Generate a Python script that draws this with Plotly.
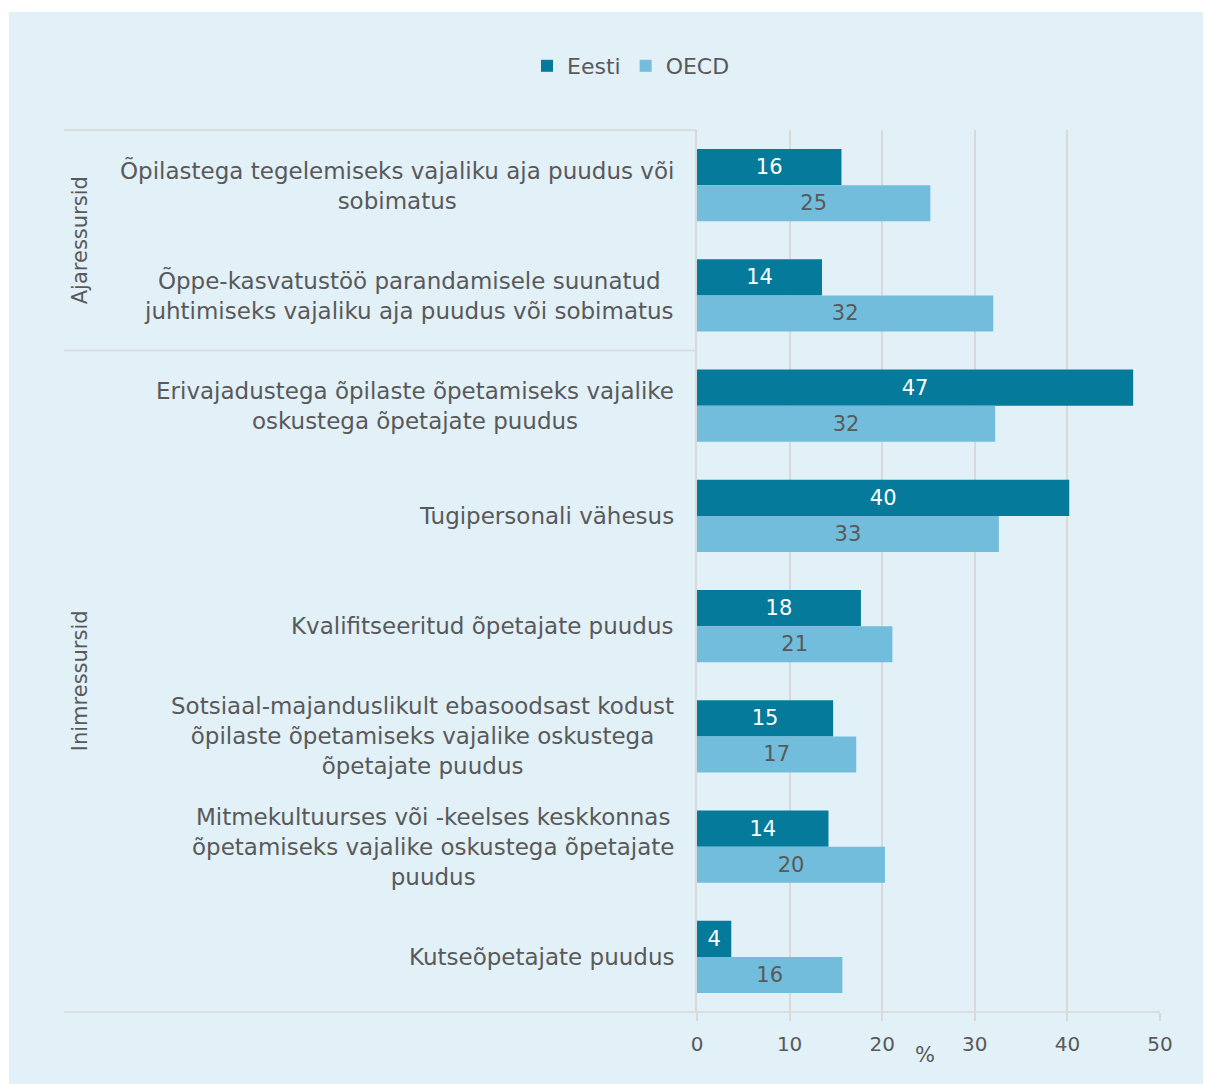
import plotly.graph_objects as go

categories = [
    "Õpilastega tegelemiseks vajaliku aja puudus või<br>sobimatus",
    "Õppe-kasvatustöö parandamisele suunatud<br>juhtimiseks vajaliku aja puudus või sobimatus",
    "Erivajadustega õpilaste õpetamiseks vajalike<br>oskustega õpetajate puudus",
    "Tugipersonali vähesus",
    "Kvalifitseeritud õpetajate puudus",
    "Sotsiaal-majanduslikult ebasoodsast kodust<br>õpilaste õpetamiseks vajalike oskustega<br>õpetajate puudus",
    "Mitmekultuurses või -keelses keskkonnas<br>õpetamiseks vajalike oskustega õpetajate<br>puudus",
    "Kutseõpetajate puudus",
]
eesti = [15.6, 13.5, 47.1, 40.2, 17.7, 14.7, 14.2, 3.7]
oecd = [25.2, 32.0, 32.2, 32.6, 21.1, 17.2, 20.3, 15.7]
groups = ["Ajaressursid", "Inimressursid"]
group_sizes = [2, 6]
x_ticks = [0, 10, 20, 30, 40, 50]

C_EESTI = "#057a9a"
C_OECD = "#72bddc"
BG = "#e2f0f8"
GRID = "#d9d9d9"
TXT = "#595959"
FONT = "DejaVu Sans"

fig = go.Figure()
fig.add_trace(go.Bar(
    y=categories, x=eesti, name="Eesti", orientation="h",
    marker=dict(color=C_EESTI, line=dict(width=0)),
    texttemplate="%{x:.0f}", textposition="inside", insidetextanchor="middle",
    textfont=dict(color="white", size=21, family=FONT), constraintext="none",
))
fig.add_trace(go.Bar(
    y=categories, x=oecd, name="OECD", orientation="h",
    marker=dict(color=C_OECD, line=dict(width=0)),
    texttemplate="%{x:.0f}", textposition="inside", insidetextanchor="middle",
    textfont=dict(color=TXT, size=21, family=FONT), constraintext="none",
))

# page body has an 8px offset; work in reference pixel coordinates
OFF = 8
W, H = 1211 - OFF, 1084 - OFF
ml, mr, mt, mb = 697 - OFF, 1211 - 1160, 130 - OFF, 1084 - 1012
pw = W - ml - mr
ph = H - mt - mb

def px_x(p):
    return (p - OFF - ml) / pw

def px_y(p):
    return (H - mb - (p - OFF)) / ph

shapes = [
    dict(type="rect", xref="paper", yref="paper", x0=px_x(9), x1=px_x(1230),
         y0=px_y(1100), y1=px_y(12), fillcolor=BG, line=dict(width=0), layer="below"),
    dict(type="line", xref="paper", yref="paper", x0=px_x(64), x1=0, y0=1, y1=1,
         line=dict(color=GRID, width=1.5)),
    dict(type="line", xref="paper", yref="paper", x0=px_x(64), x1=1, y0=0, y1=0,
         line=dict(color=GRID, width=1.5)),
]
annotations = []
for c in categories:
    annotations.append(dict(
        xref="paper", yref="y", x=px_x(676), y=c, text=c, showarrow=False,
        xanchor="right", yanchor="middle", align="center",
        font=dict(size=23, color=TXT, family=FONT),
    ))
start = 0
for g, n in zip(groups, group_sizes):
    mid = start + (n - 1) / 2
    annotations.append(dict(
        xref="paper", yref="y", x=px_x(80), y=mid, text=g, showarrow=False,
        textangle=-90, xanchor="center", yanchor="middle",
        font=dict(size=21, color=TXT, family=FONT),
    ))
    if start + n < len(categories):
        shapes.append(dict(type="line", xref="paper", yref="y", x0=px_x(64), x1=0,
                           y0=start + n - 0.5, y1=start + n - 0.5,
                           line=dict(color=GRID, width=1.5)))
    start += n

annotations.append(dict(
    xref="x", yref="paper", x=24.6, y=px_y(1055), text="%", showarrow=False,
    xanchor="center", yanchor="middle", font=dict(size=21, color=TXT, family=FONT),
))

fig.update_layout(
    width=W, height=H,
    margin=dict(l=ml, r=mr, t=mt, b=mb, pad=0),
    paper_bgcolor="white", plot_bgcolor="rgba(0,0,0,0)",
    barmode="group", bargap=0.345, bargroupgap=0,
    font=dict(family=FONT, color=TXT, size=20),
    showlegend=True,
    legend=dict(orientation="h", x=px_x(631), y=px_y(66), xanchor="center", yanchor="middle",
                font=dict(size=22, color=TXT, family=FONT), bgcolor="rgba(0,0,0,0)",
                itemwidth=30, tracegroupgap=0),
    shapes=shapes, annotations=annotations,
    xaxis=dict(range=[0, 50], tickvals=x_ticks, showgrid=True, gridcolor=GRID, gridwidth=1.5,
               zeroline=False, showline=False, ticks="outside", ticklen=8, tickcolor=GRID,
               tickwidth=1.5, ticklabelstandoff=6,
               tickfont=dict(size=20, color=TXT, family=FONT), fixedrange=True),
    yaxis=dict(showticklabels=False, autorange="reversed", showline=True, linecolor=GRID,
               linewidth=1.5, showgrid=False, zeroline=False, ticks="", fixedrange=True),
)

fig.write_html("out.html")
